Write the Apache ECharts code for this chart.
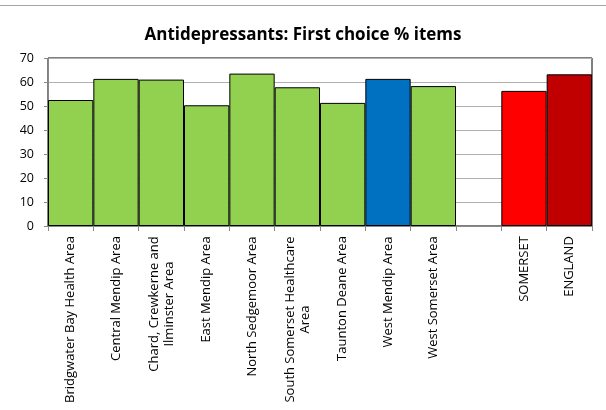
<!DOCTYPE html>
<html><head><meta charset="utf-8">
<script src="https://cdn.jsdelivr.net/npm/echarts@6/dist/echarts.min.js"></script>
<style>html,body{margin:0;padding:0;background:#fff}#c{width:606px;height:410px}</style>
</head><body><div id="c"></div>
<script>
const categories = ["Bridgwater Bay Health Area","Central Mendip Area","Chard, Crewkerne and\nIlminster Area","East Mendip Area","North Sedgemoor Area","South Somerset Healthcare\nArea","Taunton Deane Area","West Mendip Area","West Somerset Area","","SOMERSET","ENGLAND"];
const values = [52.5, 61.3, 61.0, 50.3, 63.5, 57.8, 51.3, 61.3, 58.3, null, 56.3, 63.2];
const yTicks = [0,10,20,30,40,50,60,70];
const title = "Antidepressants: First choice % items";

const colorFor = i => i === 7 ? '#0070C0' : i === 10 ? '#FF0000' : i === 11 ? '#C00000' : '#92D050';
const font = "'Open Sans', 'Liberation Sans', sans-serif";
const labelSize = 13;
const ctx = document.createElement('canvas').getContext('2d');
ctx.font = labelSize + 'px ' + font;
const rich = {};
const keyFor = {};
categories.forEach((c, i) => {
  if (!c) return;
  const lines = c.split('\n');
  const w = Math.ceil(Math.max(...lines.map(l => ctx.measureText(l).width)));
  const k = 'k' + i;
  keyFor[c] = k;
  rich[k] = {width: w, align: 'center', fontFamily: font, fontSize: labelSize, color: '#000', lineHeight: 15};
});
const chart = echarts.init(document.getElementById('c'), null, {renderer:'canvas'});
chart.setOption({
  animation:false,
  title:{text:title, left:'center', top:22, textStyle:{fontFamily:font, fontSize:17, fontWeight:'bold', color:'#000'}},
  graphic:[{type:'line', shape:{x1:0,y1:5.5,x2:606,y2:5.5}, style:{stroke:'#a6a6a6', lineWidth:1}}],
  grid:{left:48, right:14, top:58, bottom:184, show:true, borderColor:'#000', borderWidth:1},
  xAxis:{type:'category', data:categories,
    axisLine:{lineStyle:{color:'#888'}},
    axisTick:{show:true, alignWithLabel:false, length:5, lineStyle:{color:'#888'}},
    axisLabel:{rotate:90, interval:0, fontFamily:font, fontSize:labelSize, color:'#000', margin:10, lineHeight:15,
      formatter: v => v ? v.split('\n').map(l => '{' + keyFor[v] + '|' + l + '}').join('\n') : '',
      rich: rich}},
  yAxis:{type:'value', min:0, max:70, interval:10,
    axisLine:{show:true, lineStyle:{color:'#888'}},
    axisTick:{show:true, length:4, lineStyle:{color:'#888'}},
    splitLine:{lineStyle:{color:'#b0b0b0'}},
    axisLabel:{fontFamily:font, fontSize:12.5, color:'#000', margin:14, formatter:v=>yTicks.includes(v)?String(v):''}},
  series:[{type:'bar', barCategoryGap:'0%',
    data: values.map((v,i)=>({value:v, itemStyle:{color:colorFor(i), borderColor:'#000', borderWidth:1}}))}]
});
</script></body></html>
